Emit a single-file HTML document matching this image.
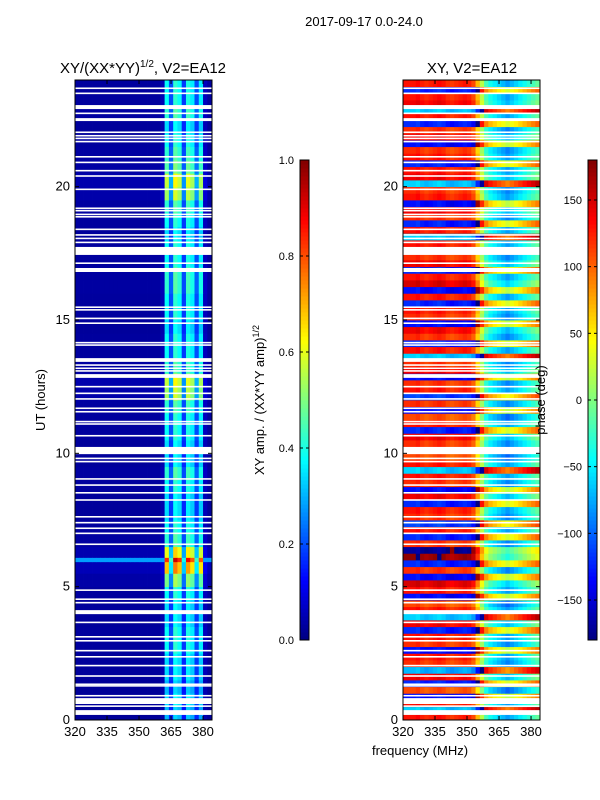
<!DOCTYPE html>
<html><head><meta charset="utf-8"><style>
html,body{margin:0;padding:0;background:#fff;}
svg{display:block;font-family:"Liberation Sans","DejaVu Sans",sans-serif;}
</style></head><body>
<svg id="fig" width="600" height="800" viewBox="0 0 600 800" xmlns="http://www.w3.org/2000/svg">
<text x="364" y="26" font-size="13" text-anchor="middle">2017-09-17 0.0-24.0</text>
<text x="143" y="73" font-size="15" text-anchor="middle">XY/(XX*YY)<tspan font-size="10" dy="-6">1/2</tspan><tspan dy="6">, V2=EA12</tspan></text>
<text x="472" y="73" font-size="15" text-anchor="middle">XY, V2=EA12</text>
<g id="leftHeat"></g>
<g id="rightHeat"></g>
<g id="axes"></g>
<text transform="translate(45,400) rotate(-90)" font-size="13" text-anchor="middle">UT (hours)</text>
<text x="420" y="755" font-size="13" text-anchor="middle">frequency (MHz)</text>
<text transform="translate(264,400) rotate(-90)" font-size="13" text-anchor="middle">XY amp. / (XX*YY amp)<tspan font-size="9" dy="-5">1/2</tspan></text>
<text transform="translate(545,400) rotate(-90)" font-size="13" text-anchor="middle">phase (deg)</text>
</svg>
<script>
// ---- data ----
const freqStart = 320, freqStep = 2, nChan = 32;
const hourStep = 0.5;
const ampColProfile = [0.03,0.03,0.03,0.03,0.03,0.03,0.03,0.03,0.03,0.03,0.03,0.03,0.03,0.03,0.03,0.03,0.03,0.03,0.03,0.03,0.05,0.38,0.2,0.42,0.38,0.18,0.4,0.36,0.2,0.36,0.06,0.03];
const ampRowScale = [0.8,0.9,0.8,0.9,0.9,1.0,1.0,0.9,0.9,1.0,1.3,1.8,1.6,1.1,1.0,0.9,0.9,1.0,1.1,0.9,0.9,1.0,1.0,1.1,1.4,1.5,1.1,1.0,1.0,0.9,1.0,1.0,1.1,1.1,1.0,1.0,0.9,1.0,1.1,1.4,1.5,1.2,1.1,1.0,0.9,1.1,1.0,1.0];
const broadbandT0 = [5.92], broadbandT1 = [6.08], broadbandAmp = [0.28];
const phaseStep = 0.25;
const phaseRows = [130,-60,130,-130,110,-120,140,-70,120,130,-130,120,130,-120,140,-60,130,110,-130,130,150,-130,120,-120,175,-170,120,-120,130,-110,120,130,-120,140,-130,120,130,-60,130,110,-130,120,140,-120,130,110,-130,120,-110,130,120,-130,140,120,-60,130,-120,120,140,-130,120,130,-120,130,-130,150,130,-120,140,120,-110,130,-60,130,-120,120,140,-130,130,120,-60,140,130,-120,130,120,-130,140,120,-120,130,-60,140,130,-120,130];
const phaseColShift = [0,0,0,5,-5,-10,-5,0,5,0,-10,-15,-10,-5,0,-5,-20,-60,-110,-150,-170,-180,-190,-200,-210,-200,-190,-180,-170,-160,-150,-140];
const gapStart = [22.91,22.46,17.44,16.8,13.43,12.83,9.97,3.97,0.6,0.19];
const gapEnd = [23.06,22.57,17.74,16.95,13.57,12.97,10.24,4.12,0.82,0.37];
const thinGaps = [23.69,23.50,22.75,22.04,21.91,21.81,21.69,21.12,20.91,20.60,20.40,19.90,19.19,19.10,18.96,18.87,18.40,18.19,18.06,17.91,17.13,15.48,15.38,15.06,14.88,14.15,14.06,13.31,13.19,13.09,12.50,12.25,12.04,11.69,11.56,11.19,11.10,10.66,9.81,9.69,9.04,8.81,8.52,8.25,7.62,7.40,7.19,7.00,6.59,4.87,4.53,4.40,3.66,3.12,2.97,2.60,2.37,2.04,1.65,1.34,1.28,0.91,0.52];
const xTicks = [320,335,350,365,380];
const yTicks = [0,5,10,15,20];
const ampTicks = [0.0,0.2,0.4,0.6,0.8,1.0];
const phaseTicks = [-150,-100,-50,0,50,100,150];

// ---- scales ----
const NS='http://www.w3.org/2000/svg';
const Y0=720,Y1=80;
const yScale=h=>Y0-(h/24)*(Y0-Y1);
const panels=[{x0:75},{x0:403}];
const W=137, FMAX=384.2;
const xScale=(f,x0)=>x0+(f-320)/(FMAX-320)*W;
function jet(v){v=Math.max(0,Math.min(1,v));
 const r=Math.max(0,Math.min(1,1.5-Math.abs(4*v-3)));
 const g=Math.max(0,Math.min(1,1.5-Math.abs(4*v-2)));
 const b=Math.max(0,Math.min(1,1.5-Math.abs(4*v-1)));
 return `rgb(${Math.round(r*255)},${Math.round(g*255)},${Math.round(b*255)})`;}
function mk(tag,attrs,parent){const e=document.createElementNS(NS,tag);for(const k in attrs)e.setAttribute(k,attrs[k]);parent.appendChild(e);return e;}
const axes=document.getElementById('axes');

// left heatmap
const L=document.getElementById('leftHeat');
for(let r=0;r<ampRowScale.length;r++){
 for(let c=0;c<nChan;c++){
  const f0=freqStart+c*freqStep;
  let v=ampColProfile[c]*ampRowScale[r];
  const x=xScale(f0,75), x2=xScale(f0+freqStep,75);
  const yA=yScale((r+1)*hourStep), yB=yScale(r*hourStep);
  const rc=mk('rect',{x:x,y:yA,width:x2-x+0.4,height:yB-yA+0.4,fill:jet(v)},L);
  
  
 }
}
for(let i=0;i<broadbandT0.length;i++){
 for(let c=0;c<nChan;c++){
  const f0=freqStart+c*freqStep;
  const v=Math.max(broadbandAmp[i],ampColProfile[c]*2.2);
  const x=xScale(f0,75),x2=xScale(f0+freqStep,75);
  const rc=mk('rect',{x:x,y:yScale(broadbandT1[i]),width:x2-x+0.4,height:yScale(broadbandT0[i])-yScale(broadbandT1[i]),fill:jet(v)},L);
  
  
 }
}
// right heatmap
const R=document.getElementById('rightHeat');
for(let r=0;r<phaseRows.length;r++){
 for(let c=0;c<nChan;c++){
  const f0=freqStart+c*freqStep;
  let p=phaseRows[r]+phaseColShift[c];
  p=((p+180)%360+360)%360-180;
  const x=xScale(f0,403),x2=xScale(f0+freqStep,403);
  const yA=yScale((r+1)*phaseStep),yB=yScale(r*phaseStep);
  const rc=mk('rect',{x:x,y:yA,width:x2-x+0.4,height:yB-yA+0.4,fill:jet((p+180)/360)},R);
  
  
 }
}
// gaps
[[L,75],[R,403]].forEach(([g,x0])=>{
 for(let i=0;i<gapStart.length;i++){
  const rc=mk('rect',{x:x0,y:yScale(gapEnd[i]),width:W,height:yScale(gapStart[i])-yScale(gapEnd[i]),fill:'#fff'},g);
  
  
 }
 for(const t of thinGaps){
  const rc=mk('rect',{x:x0,y:yScale(t)-0.8,width:W,height:1.6,fill:'#fff'},g);
  
  
 }
});
// axes frames and ticks
panels.forEach((p,pi)=>{
 const fr=mk('rect',{x:p.x0,y:Y1,width:W,height:Y0-Y1,fill:'none',stroke:'#000','stroke-width':1},axes);
 
 
 for(const t of xTicks){
  const x=xScale(t,p.x0);
  mk('line',{x1:x,y1:Y0,x2:x,y2:Y0-4,stroke:'#000'},axes);
  mk('line',{x1:x,y1:Y1,x2:x,y2:Y1+4,stroke:'#000'},axes);
  const tx=mk('text',{x:x,y:Y0+16,'font-size':13,'text-anchor':'middle'},axes);
  tx.textContent=t;
  
  
 }
 for(const t of yTicks){
  const y=yScale(t);
  mk('line',{x1:p.x0,y1:y,x2:p.x0+4,y2:y,stroke:'#000'},axes);
  mk('line',{x1:p.x0+W,y1:y,x2:p.x0+W-4,y2:y,stroke:'#000'},axes);
  const tx=mk('text',{x:p.x0-5,y:y+4,'font-size':13,'text-anchor':'end'},axes);
  tx.textContent=t;
  
  
 }
});
// colorbars
function colorbar(x,ticks,lo,hi,fmt,name){
 const top=160,bot=640,n=120;
 for(let i=0;i<n;i++){
  const y=bot-(i+1)*(bot-top)/n;
  mk('rect',{x:x,y:y,width:9,height:(bot-top)/n+0.5,fill:jet((i+0.5)/n)},axes);
 }
 const fr=mk('rect',{x:x,y:top,width:9,height:bot-top,fill:'none',stroke:'#000'},axes);
 
 
 for(const t of ticks){
  const y=bot-(t-lo)/(hi-lo)*(bot-top);
  mk('line',{x1:x,y1:y,x2:x+3,y2:y,stroke:'#000'},axes);
  mk('line',{x1:x+9,y1:y,x2:x+6,y2:y,stroke:'#000'},axes);
  const tx=mk('text',{x:x-6,y:y+4,'font-size':11,'text-anchor':'end'},axes);
  tx.textContent=fmt(t);
  
  
 }
}
colorbar(300,ampTicks,0,1,t=>t.toFixed(1),'amp-colorbar');
colorbar(588,phaseTicks,-180,180,t=>String(t).replace('-','\u2212'),'phase-colorbar');
</script>
</body></html>
